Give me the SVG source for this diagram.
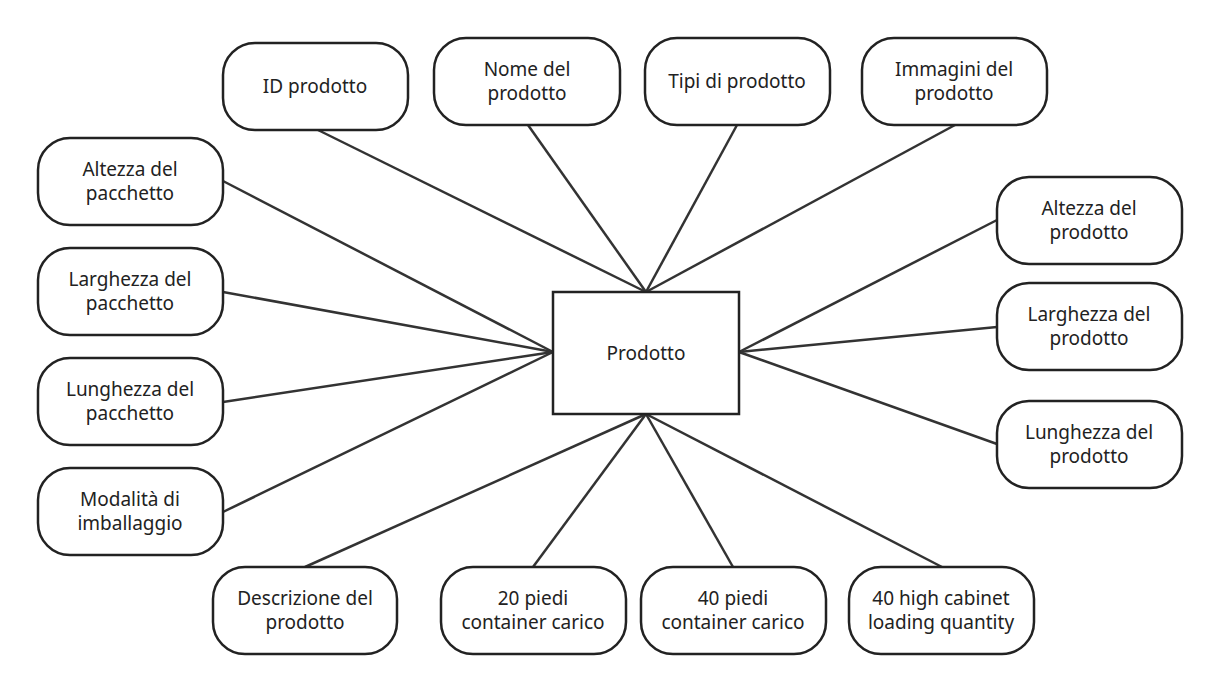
<svg xmlns="http://www.w3.org/2000/svg" width="1219" height="691" viewBox="0 0 1219 691">
<style>
.n rect{fill:#fff;stroke:#222;stroke-width:2.5}
text{font-family:"Noto Sans","Open Sans",sans-serif;font-size:19px;fill:#222;text-anchor:middle}
#c line{stroke:#333;stroke-width:2.5}
</style>
<rect width="1219" height="691" fill="#fff"/>
<g id="c">
<line x1="318" y1="130" x2="646" y2="292"/><line x1="528" y1="125" x2="646" y2="292"/>
<line x1="737" y1="125" x2="646" y2="292"/><line x1="955" y1="125" x2="646" y2="292"/>
<line x1="223" y1="181" x2="553" y2="352"/><line x1="223" y1="292" x2="553" y2="352"/>
<line x1="223" y1="402" x2="553" y2="352"/><line x1="223" y1="512" x2="553" y2="352"/>
<line x1="997" y1="220" x2="739" y2="352"/><line x1="997" y1="327" x2="739" y2="352"/>
<line x1="997" y1="444" x2="739" y2="352"/>
<line x1="305" y1="567" x2="646" y2="414"/><line x1="533" y1="567" x2="646" y2="414"/>
<line x1="733" y1="567" x2="646" y2="414"/><line x1="942" y1="567" x2="646" y2="414"/>
</g>
<g id="prodotto" class="n"><rect x="553" y="292" width="186" height="122" rx="0"/><text x="646" y="360">Prodotto</text></g>
<g id="n1" class="n"><rect x="223" y="43" width="185" height="87" rx="32"/><text x="315" y="93">ID prodotto</text></g>
<g id="n2" class="n"><rect x="434" y="38" width="186" height="87" rx="32"/><text x="527" y="76">Nome del</text><text x="527" y="100">prodotto</text></g>
<g id="n3" class="n"><rect x="645" y="38" width="185" height="87" rx="32"/><text x="737" y="88">Tipi di prodotto</text></g>
<g id="n4" class="n"><rect x="862" y="38" width="185" height="87" rx="32"/><text x="954" y="76">Immagini del</text><text x="954" y="100">prodotto</text></g>
<g id="n5" class="n"><rect x="38" y="138" width="185" height="87" rx="32"/><text x="130" y="176">Altezza del</text><text x="130" y="200">pacchetto</text></g>
<g id="n6" class="n"><rect x="38" y="248" width="185" height="87" rx="32"/><text x="130" y="286">Larghezza del</text><text x="130" y="310">pacchetto</text></g>
<g id="n7" class="n"><rect x="38" y="358" width="185" height="87" rx="32"/><text x="130" y="396">Lunghezza del</text><text x="130" y="420">pacchetto</text></g>
<g id="n8" class="n"><rect x="38" y="468" width="185" height="87" rx="32"/><text x="130" y="506">Modalità di</text><text x="130" y="530">imballaggio</text></g>
<g id="n9" class="n"><rect x="997" y="177" width="185" height="87" rx="32"/><text x="1089" y="215">Altezza del</text><text x="1089" y="239">prodotto</text></g>
<g id="n10" class="n"><rect x="997" y="283" width="185" height="87" rx="32"/><text x="1089" y="321">Larghezza del</text><text x="1089" y="345">prodotto</text></g>
<g id="n11" class="n"><rect x="997" y="401" width="185" height="87" rx="32"/><text x="1089" y="439">Lunghezza del</text><text x="1089" y="463">prodotto</text></g>
<g id="n12" class="n"><rect x="213" y="567" width="184" height="87" rx="32"/><text x="305" y="605">Descrizione del</text><text x="305" y="629">prodotto</text></g>
<g id="n13" class="n"><rect x="441" y="567" width="185" height="87" rx="32"/><text x="533" y="605">20 piedi</text><text x="533" y="629">container carico</text></g>
<g id="n14" class="n"><rect x="641" y="567" width="185" height="87" rx="32"/><text x="733" y="605">40 piedi</text><text x="733" y="629">container carico</text></g>
<g id="n15" class="n"><rect x="849" y="567" width="185" height="87" rx="32"/><text x="941" y="605">40 high cabinet</text><text x="941" y="629">loading quantity</text></g>
</svg>
